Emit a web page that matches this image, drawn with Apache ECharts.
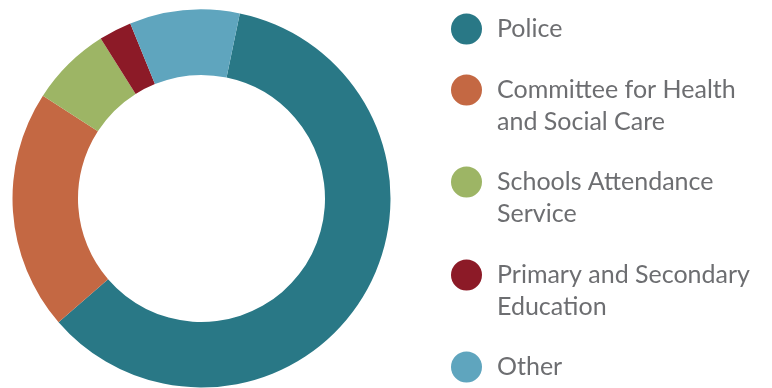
<!DOCTYPE html>
<html><head><meta charset="utf-8">
<script src="https://cdn.jsdelivr.net/npm/echarts@6/dist/echarts.min.js"></script>
<style>html,body{margin:0;padding:0;background:#fff}#c{width:772px;height:388px}</style>
</head><body><div id="c"></div>
<script>
const categories = ['Police', 'Committee for Health\nand Social Care', 'Schools Attendance\nService', 'Primary and Secondary\nEducation', 'Other'];
const values = [60.4, 20.5, 6.9, 2.8, 9.4];
const colors = ['#297886', '#c46843', '#9db565', '#8c1a27', '#5fa5be'];

const chart = echarts.init(document.getElementById('c'));
const legendTops = [13, 42, 134, 227, 351];
const FONT = 'Lato';
const legends = categories.map((name, i) => {
  const lines = name.split('\n');
  const multi = lines.length > 1;
  return {
    orient: 'vertical', left: 451, top: legendTops[i], padding: 0,
    icon: 'circle', itemWidth: 31, itemHeight: 31, itemGap: 0,
    selectedMode: false,
    data: [name],
    formatter: () => (multi ? ['{t| }'] : []).concat(lines.map(l => '{t|' + l + '}')).join('\n'),
    textStyle: {
      fontFamily: FONT, fontSize: 25, lineHeight: 32, color: '#6d6e71',
      rich: { t: { fontFamily: FONT, fontSize: 25, lineHeight: 32, color: '#6d6e71', padding: [0, 0, 0, 10] } }
    },
    itemStyle: { borderWidth: 0 }
  };
});
chart.setOption({
  animation: false,
  color: colors,
  legend: legends,
  series: [{
    type: 'pie',
    center: [201.5, 198.5],
    radius: [123.5, 189],
    startAngle: 78.3,
    clockwise: true,
    label: { show: false },
    labelLine: { show: false },
    emphasis: { disabled: true },
    itemStyle: { borderWidth: 0 },
    data: categories.map((n, i) => ({ name: n, value: values[i] }))
  }]
});
</script></body></html>
